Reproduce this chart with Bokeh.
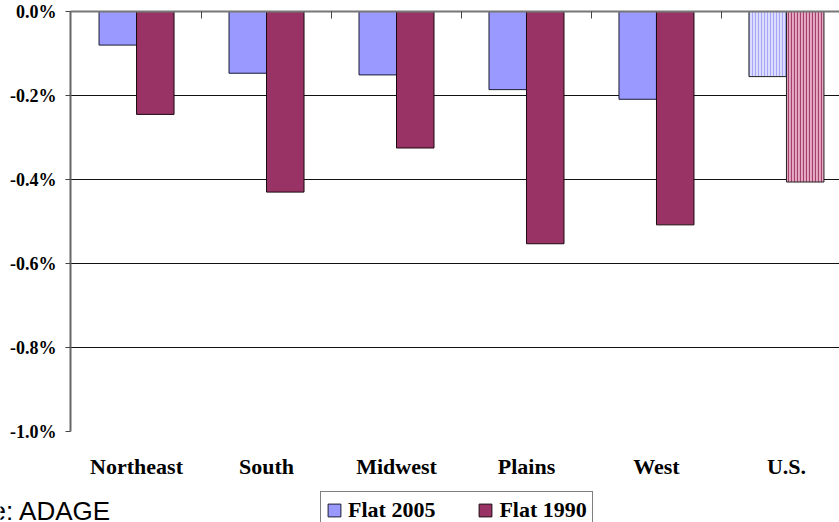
from bokeh.plotting import figure
from bokeh.layouts import column, row
from bokeh.models import (Range1d, FixedTicker, LinearAxis, Legend, LegendItem,
                          Label, ColumnDataSource)
from bokeh.embed import file_html
from bokeh.resources import INLINE

# Annual change by region, in percent
regions = ["Northeast", "South", "Midwest", "Plains", "West", "U.S."]
flat_2005 = [-0.080, -0.147, -0.151, -0.186, -0.209, -0.155]
flat_1990 = [-0.245, -0.430, -0.325, -0.553, -0.508, -0.406]

y_ticks = [0.0, -0.2, -0.4, -0.6, -0.8, -1.0]
y_tick_labels = ["0.0%", "-0.2%", "-0.4%", "-0.6%", "-0.8%", "-1.0%"]

SERIF = "Liberation Serif"
BAR_W = 0.2885
OFFSET = BAR_W / 2

COLOR_05 = "#9999FF"
COLOR_90 = "#993366"
EDGE_05 = "#1a1a33"
EDGE_90 = "#1a0a10"

centers = [i + 0.5 for i in range(len(regions))]
n_reg = len(regions) - 1  # the last category is the national total

src_05 = ColumnDataSource(dict(x=[c - OFFSET for c in centers[:n_reg]], top=flat_2005[:n_reg]))
src_90 = ColumnDataSource(dict(x=[c + OFFSET for c in centers[:n_reg]], top=flat_1990[:n_reg]))
src_us05 = ColumnDataSource(dict(x=[centers[n_reg] - OFFSET], top=flat_2005[n_reg:]))
src_us90 = ColumnDataSource(dict(x=[centers[n_reg] + OFFSET], top=flat_1990[n_reg:]))

p = figure(width=839, height=490,
           x_range=Range1d(-0.008, 5.908), y_range=Range1d(-1.0, 0.0),
           output_backend="svg", toolbar_location=None,
           min_border_left=70, min_border_right=0,
           min_border_top=11, min_border_bottom=59)
p.outline_line_color = None
p.background_fill_color = "white"

# horizontal gridlines
p.xgrid.visible = False
p.ygrid.ticker = FixedTicker(ticks=y_ticks)
p.ygrid.grid_line_color = "#111111"
p.ygrid.grid_line_width = 1

# bars
p.vbar(x="x", top="top", bottom=0, width=BAR_W, source=src_05,
       fill_color=COLOR_05, line_color=EDGE_05, line_width=1)
p.vbar(x="x", top="top", bottom=0, width=BAR_W, source=src_90,
       fill_color=COLOR_90, line_color=EDGE_90, line_width=1)
p.vbar(x="x", top="top", bottom=0, width=BAR_W, source=src_us05,
       fill_color="#dcdcff", line_color="#222222", line_width=1,
       hatch_pattern="vertical_line", hatch_color="#a6a6f5",
       hatch_scale=3, hatch_weight=1)
p.vbar(x="x", top="top", bottom=0, width=BAR_W, source=src_us90,
       fill_color="#e6aac4", line_color="#222222", line_width=1,
       hatch_pattern="vertical_line", hatch_color="#a3406c",
       hatch_scale=3, hatch_weight=1.2)

# category labels below the plot
xa = p.xaxis[0]
xa.ticker = FixedTicker(ticks=centers)
xa.major_label_overrides = {c: name for c, name in zip(centers, regions)}
xa.axis_line_color = None
xa.major_tick_line_color = None
xa.minor_tick_line_color = None
xa.major_label_standoff = 16
xa.major_label_text_font = SERIF
xa.major_label_text_font_style = "bold"
xa.major_label_text_font_size = "22px"
xa.major_label_text_color = "black"

# zero line with category separator ticks
top_axis = LinearAxis(ticker=FixedTicker(ticks=[1, 2, 3, 4, 5]),
                      major_tick_in=7, major_tick_out=0,
                      major_label_overrides={k: "" for k in [1, 2, 3, 4, 5]},
                      major_label_text_font_size="1px",
                      major_label_standoff=0,
                      minor_tick_line_color=None,
                      axis_line_color="#777777", axis_line_width=2,
                      major_tick_line_color="#444444")
p.add_layout(top_axis, "above")

# value axis
ya = p.yaxis[0]
ya.ticker = FixedTicker(ticks=y_ticks)
ya.major_label_overrides = {t: s for t, s in zip(y_ticks, y_tick_labels)}
ya.axis_line_color = "#666666"
ya.axis_line_width = 2
ya.major_tick_in = 0
ya.major_tick_out = 5
ya.major_tick_line_color = "#444444"
ya.minor_tick_line_color = None
ya.major_label_standoff = 9
ya.major_label_text_font = SERIF
ya.major_label_text_font_style = "bold"
ya.major_label_text_font_size = "18px"
ya.major_label_text_color = "black"

# strip under the chart holding the source note and the legend;
# its ranges sit away from the bar data so the key renderers stay off-screen
foot = figure(width=839, height=32,
              x_range=Range1d(100, 939), y_range=Range1d(100, 132),
              output_backend="svg", toolbar_location=None,
              x_axis_location=None, y_axis_location=None,
              min_border=0)
foot.outline_line_color = None
foot.grid.visible = False

key_05 = foot.vbar(x="x", top="top", width=BAR_W, source=src_05,
                   fill_color=COLOR_05, line_color=EDGE_05, line_width=1)
key_90 = foot.vbar(x="x", top="top", width=BAR_W, source=src_90,
                   fill_color=COLOR_90, line_color=EDGE_90, line_width=1)

legend = Legend(items=[LegendItem(label="Flat 2005", renderers=[key_05]),
                       LegendItem(label="Flat 1990", renderers=[key_90])],
                orientation="horizontal", location=(320, -7),
                glyph_width=16, glyph_height=16, label_standoff=6,
                spacing=42, padding=5, margin=0,
                border_line_color="black", border_line_width=1,
                background_fill_color="white", background_fill_alpha=1,
                label_text_font=SERIF, label_text_font_style="bold",
                label_text_font_size="22px", label_text_color="black")
foot.add_layout(legend)

source_note = Label(x=111, y=12, x_units="screen", y_units="screen",
                    text="Source: ADAGE", text_align="right",
                    text_baseline="alphabetic",
                    text_font="Liberation Sans", text_font_size="26px",
                    text_color="black")
foot.add_layout(source_note)

layout = column(p, row(foot, spacing=0), spacing=0)
open("out.html", "w").write(file_html(layout, INLINE))
